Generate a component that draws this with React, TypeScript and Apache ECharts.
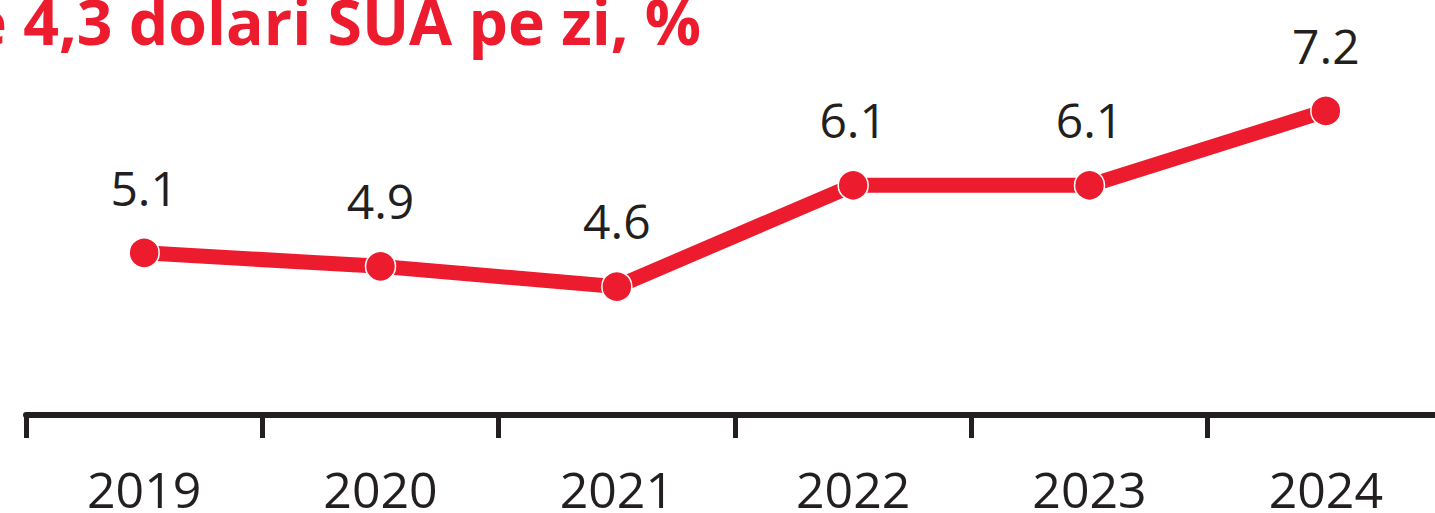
import React, { useEffect, useRef } from "react";
import * as echarts from "echarts";

const years: string[] = ["2019", "2020", "2021", "2022", "2023", "2024"];
const values: number[] = [5.1, 4.9, 4.6, 6.1, 6.1, 7.2];
const titleText = "e 4,3 dolari SUA pe zi, %";

const RED = "#ec1c2e";
const DARK = "#231f20";

export default function App() {
  const ref = useRef<HTMLDivElement>(null);
  useEffect(() => {
    if (!ref.current) return;
    const chart = echarts.init(ref.current, null, { renderer: "svg" });
    chart.setOption({
      animation: false,
      backgroundColor: "#ffffff",
      grid: {
        left: 26,
        top: 43.4,
        right: 0,
        height: 371.6,
        containLabel: false,
        outerBoundsMode: "none",
      },
      graphic: [
        {
          type: "text",
          x: -30,
          y: -11,
          style: {
            text: titleText,
            fontSize: 62.5,
            fontWeight: "bold",
            fontFamily: "Open Sans",
            fill: RED,
            align: "left",
            verticalAlign: "top",
          },
        },
      ],
      xAxis: {
        type: "category",
        data: years,
        boundaryGap: true,
        axisLine: { show: true, lineStyle: { color: DARK, width: 6 } },
        axisTick: { show: true, length: 23, lineStyle: { color: DARK, width: 5 } },
        axisLabel: {
          margin: 54,
          fontSize: 50,
          lineHeight: 40,
          fontFamily: "Open Sans",
          color: DARK,
          verticalAlign: "top",
        },
        splitLine: { show: false },
      },
      yAxis: {
        type: "value",
        min: 2.7,
        max: 8.2,
        show: false,
        splitLine: { show: false },
      },
      series: [
        {
          type: "line",
          data: values,
          symbol: "circle",
          symbolSize: 30,
          itemStyle: { color: RED, borderColor: "#ffffff", borderWidth: 1.5 },
          lineStyle: { color: RED, width: 15 },
          label: {
            show: true,
            position: "top",
            distance: 26,
            fontSize: 48,
            fontFamily: "Open Sans",
            color: DARK,
            formatter: (p: any) => Number(p.value).toFixed(1),
          },
          emphasis: { disabled: true },
          z: 3,
        },
      ],
    });
    return () => chart.dispose();
  }, []);
  return (
    <div
      style={{
        position: "fixed",
        left: 0,
        top: 0,
        width: 1435,
        height: 513,
        overflow: "hidden",
        background: "#fff",
      }}
    >
      <div ref={ref} style={{ width: 1444, height: 513 }} />
    </div>
  );
}
